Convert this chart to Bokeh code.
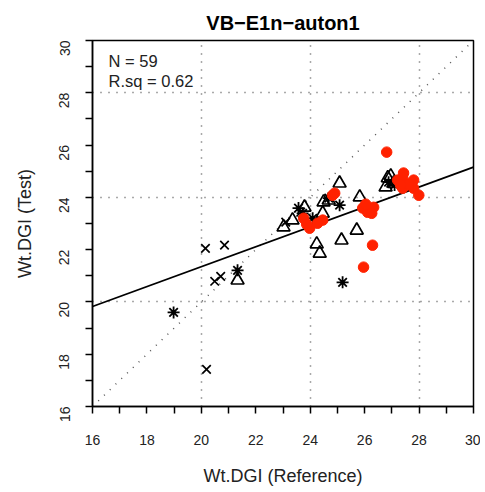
from bokeh.plotting import figure
from bokeh.models import FixedTicker, Range1d
from bokeh.embed import file_html
from bokeh.resources import INLINE
from bokeh.core.properties import value
import math

title_text = "VB\u2212E1n\u2212auton1"
x_label = "Wt.DGI (Reference)"
y_label = "Wt.DGI (Test)"
n_text = "N = 59"
rsq_text = "R.sq = 0.62"

axis_min = 16
axis_max = 30
tick_values = list(range(16, 31))
grid_values = [20, 24, 28]

fit_intercept = 13.73
fit_slope = 0.381

cross_x = [20.15, 20.85, 20.49, 20.71, 20.19, 23.10, 26.96, 23.65]
cross_y = [22.05, 22.17, 20.79, 20.98, 17.42, 23.05, 24.54, 23.43]

star_x = [18.98, 21.33, 25.19, 24.68, 25.08, 23.72, 24.09, 26.88, 27.10, 23.57]
star_y = [19.60, 21.21, 20.75, 23.97, 23.70, 23.39, 23.20, 24.58, 24.47, 23.59]

tri_x = [21.33, 25.08, 25.82, 24.49, 23.79, 24.46, 23.35, 23.02, 25.71, 25.15,
         24.24, 24.35, 26.85, 26.96, 26.77, 24.68, 27.07]
tri_y = [20.83, 24.54, 24.01, 23.82, 23.62, 23.39, 23.13, 22.86, 22.74, 22.36,
         22.21, 21.86, 24.74, 24.81, 24.39, 23.89, 24.54]

red_x = [26.81, 27.43, 27.40, 27.80, 27.80, 27.99, 27.40, 27.21, 27.62, 25.93,
         26.11, 26.33, 26.04, 24.82, 24.46, 23.98, 24.27, 23.76, 26.29, 25.96,
         27.32, 26.26, 23.87, 24.90]
red_y = [25.73, 24.93, 24.74, 24.66, 24.35, 24.08, 24.35, 24.66, 24.50, 23.59,
         23.43, 23.62, 23.74, 24.08, 23.13, 22.82, 23.01, 23.20, 22.17, 21.33,
         24.47, 23.39, 22.97, 24.16]

FONT = "Liberation Sans"

p = figure(width=480, height=488, output_backend="svg", toolbar_location=None,
           x_range=Range1d(axis_min, axis_max), y_range=Range1d(axis_min, axis_max),
           min_border_left=92, min_border_right=7, min_border_top=40, min_border_bottom=82,
           title=title_text)

p.title.text_font = FONT
p.title.text_font_size = "20px"
p.title.text_font_style = "bold"
p.title.align = "center"
p.title.text_color = "black"
p.title.standoff = 14

p.outline_line_color = "black"
p.outline_line_width = 1.5
p.background_fill_color = "white"
p.border_fill_color = "white"

for ax in (p.xaxis[0], p.yaxis[0]):
    ax.ticker = FixedTicker(ticks=tick_values)
    ax.major_label_overrides = {t: ("" if t % 2 else str(t)) for t in tick_values}
    ax.minor_tick_line_color = None
    ax.major_tick_out = 7
    ax.major_tick_in = 0
    ax.major_tick_line_width = 1.5
    ax.axis_line_width = 1.5
    ax.axis_line_color = "black"
    ax.major_tick_line_color = "black"
    ax.major_label_text_font = FONT
    ax.major_label_text_font_size = "14px"
    ax.major_label_text_color = "#222222"
    ax.axis_label_text_font = FONT
    ax.axis_label_text_font_size = "18px"
    ax.axis_label_text_font_style = "normal"
    ax.axis_label_text_color = "#222222"

p.xaxis.axis_label = x_label
p.yaxis.axis_label = y_label
p.xaxis.major_label_standoff = 21
p.xaxis.axis_label_standoff = 18
p.yaxis.major_label_orientation = math.pi / 2
p.yaxis.major_label_standoff = 21
p.yaxis.axis_label_standoff = 17

for g in (p.xgrid[0], p.ygrid[0]):
    g.ticker = FixedTicker(ticks=grid_values)
    g.grid_line_color = "#555555"
    g.grid_line_dash = "1 7"
    g.grid_line_width = 1.5

# 1:1 line
p.line([axis_min, axis_max], [axis_min, axis_max], line_color="#555555",
       line_dash="1 7", line_width=1.5)

# regression fit
fx = [axis_min, axis_max]
fy = [fit_intercept + fit_slope * v for v in fx]
p.line(fx, fy, line_color="black", line_width=1.8)

p.scatter(cross_x, cross_y, marker="x", size=12, line_color="black", line_width=1.7)
p.scatter(star_x, star_y, marker="asterisk", size=12, line_color="black", line_width=1.8)
p.scatter(tri_x, tri_y, marker="triangle", size=13, line_color="black",
          fill_color=None, line_width=1.7)
p.scatter(red_x, red_y, marker="circle", size=10.5, line_color="#ff2200",
          fill_color="#ff2200", line_width=1)

p.text(x=[16.59, 16.59], y=[29.22, 28.45], text=[n_text, rsq_text],
       text_font=value(FONT), text_font_size="16.5px", text_baseline="middle",
       text_align="left", text_color="#222222")

open("out.html", "w").write(file_html(p, INLINE))
